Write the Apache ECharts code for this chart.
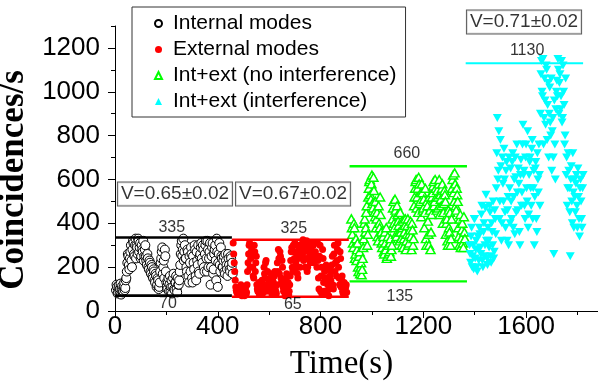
<!DOCTYPE html>
<html><head><meta charset="utf-8">
<script src="https://cdn.jsdelivr.net/npm/echarts@6/dist/echarts.min.js"></script>
<style>html,body{margin:0;padding:0;background:#fff}#c{width:598px;height:388px}</style>
</head><body><div id="c"></div>
<script>
// ---------------- data ----------------
const seriesNames = ['Internal modes', 'External modes', 'Int+ext (no interference)', 'Int+ext (interference)'];
const sampleStep = 4;   // s between samples of one array
const interleave = 2;   // second array sampled half a step later
const internalStart = 4;
const internalValues = [
  95, 110, 85, 120, 100, 75, 115, 90, 130, 105,
  150, 220, 250, 190, 270, 230,
  280, 310, 250, 330, 300, 260, 320, 290, 240, 300, 270, 230, 280,
  250, 210, 240, 190, 220, 170, 200, 150, 180, 130, 160, 120, 140, 110,
  180, 240, 290, 200, 150, 250, 130,
  100, 150, 120, 90, 140, 110, 170, 95, 130, 100, 150, 120, 180,
  260, 320, 280, 230, 300,
  240, 180, 270, 130, 220, 290, 150, 250, 190, 280, 140, 230, 300, 170,
  260, 310, 220, 280, 180, 300, 240, 320, 200, 270, 120, 250, 310, 190, 280, 230, 330, 110, 260, 210, 290, 240,
  200, 250, 170, 230, 190, 260, 210, 180, 240, 220
];
const internalValuesB = [
  120, 80, 105, 90, 125, 100, 85, 110, 95, 140,
  180, 260, 210, 240, 300, 200,
  320, 260, 300, 240, 290, 330, 270, 310, 250, 280, 320, 250, 300,
  230, 260, 200, 230, 180, 210, 160, 190, 140, 170, 110, 150, 100, 130,
  220, 270, 170, 230, 280, 180, 110,
  130, 90, 160, 110, 80, 150, 100, 130, 160, 85, 120, 140, 210,
  300, 250, 330, 270, 240,
  200, 280, 160, 250, 180, 260, 130, 220, 300, 160, 270, 210, 180, 250,
  290, 240, 300, 200, 260, 320, 180, 280, 240, 310, 200, 290, 170, 260, 300, 140, 270, 220, 310, 180, 250, 200,
  230, 180, 260, 210, 160, 240, 190, 250, 200, 170
];
const externalStart = 460;
const externalValues = [
  310, 220, 140, 95, 80,
  100, 75, 90, 110, 80, 95, 70, 105, 85,
  180, 260, 310, 240, 290, 200, 150, 270, 220, 120,
  90, 130, 80, 110, 140, 85,
  200, 150, 230, 120, 100,
  140, 100, 170, 90, 130, 160, 110, 80,
  220, 280, 170, 250, 130, 200,
  90, 140, 80, 170, 110, 75, 120,
  230, 290, 180, 270, 310, 220, 260, 150, 280, 200,
  300, 250, 325, 270, 200, 290, 180, 240, 310,
  220, 280, 260, 300, 230, 270, 250,
  310, 150, 250, 90, 200, 280,
  130, 180, 90, 200, 120, 70, 160,
  140, 210, 120, 260, 180, 300, 230, 310, 150, 270,
  110, 160, 80, 130, 90, 120
];
const externalValuesB = [
  260, 180, 110, 85, 100,
  80, 95, 120, 70, 100, 85, 90, 75, 120,
  220, 300, 200, 270, 250, 160, 300, 180, 250, 100,
  120, 75, 100, 130, 80, 110,
  170, 220, 90, 180, 130,
  110, 150, 80, 140, 100, 180, 90, 120,
  180, 240, 270, 150, 230, 110,
  120, 70, 150, 95, 130, 90, 160,
  270, 200, 300, 240, 190, 300, 170, 240, 300, 250,
  260, 310, 230, 290, 240, 320, 200, 280, 260,
  300, 240, 270, 220, 310, 250, 200,
  230, 100, 300, 160, 75, 240,
  90, 150, 210, 80, 140, 100, 200,
  180, 250, 100, 300, 220, 160, 280, 200, 120, 240,
  140, 90, 120, 75, 110, 85
];
const noInterfStart = 920;
const noInterfValues = [
  420, 350, 290, 380, 260,
  230, 310, 180, 270, 200, 165, 240,
  330, 420, 380, 480, 350,
  560, 600, 510, 620, 470, 550, 430,
  380, 450, 320, 400, 520, 360,
  290, 340, 260, 310, 380, 250, 300, 270, 330, 280,
  420, 500, 380, 460, 340, 440, 390, 320,
  360, 300, 410, 330, 390, 280, 350, 420, 310, 370, 340, 400, 300,
  480, 560, 600, 520, 450, 580, 500, 430, 540, 470,
  380, 560, 300, 480, 350, 520, 280, 440,
  540, 590, 500, 560, 460, 520, 580, 440, 510, 560, 400, 490, 530,
  350, 420, 300, 380, 450, 330,
  560, 620, 500, 580, 460, 530,
  380, 300, 440, 330, 400, 290, 360
];
const noInterfValuesB = [
  380, 310, 400, 240, 330,
  280, 200, 250, 170, 220, 190, 290,
  400, 360, 450, 300, 520,
  590, 530, 580, 490, 610, 450, 500,
  420, 340, 480, 380, 440, 310,
  320, 270, 360, 280, 240, 340, 260, 310, 250, 300,
  470, 400, 510, 350, 480, 410, 360, 450,
  330, 380, 290, 360, 420, 320, 390, 300, 350, 410, 280, 370, 330,
  520, 590, 470, 560, 610, 490, 540, 580, 460, 510,
  450, 330, 500, 410, 300, 460, 360, 520,
  570, 480, 600, 520, 550, 470, 600, 530, 480, 580, 450, 550, 500,
  400, 320, 460, 360, 300, 420,
  600, 540, 630, 480, 560, 500,
  340, 420, 290, 370, 310, 430, 330
];
const interfStart = 1380;
const interfValues = [
  300, 220, 380, 250, 190, 420, 280, 200, 340, 230,
  350, 260, 480, 200, 400, 300, 530, 240,
  380, 290, 450, 220, 360, 500, 270, 420,
  560, 880, 640, 420, 780, 320, 700, 500,
  600, 380, 680, 460, 300, 560,
  650, 420, 720, 520, 350, 610, 760, 460, 580, 300, 690,
  540, 850, 640, 420, 760, 500, 380, 620,
  700, 480, 780, 560, 300, 650, 420, 720, 540, 620,
  900, 1140, 980, 760, 1060, 850, 1100, 940, 700, 1020, 800,
  640, 880, 260, 760, 920,
  1050, 1150, 900, 1080, 980, 860, 1120, 940, 800,
  620, 480, 720, 560, 250, 660, 400, 540, 600,
  450, 620, 380, 520, 340, 600, 420, 560
];
const interfValuesB = [
  260, 340, 200, 300, 420, 240, 320, 180, 280, 380,
  290, 440, 230, 360, 250, 470, 320, 210,
  320, 480, 250, 400, 300, 240, 460, 350,
  720, 600, 820, 500, 660, 400, 580, 740,
  450, 640, 320, 520, 700, 400,
  500, 680, 380, 600, 700, 450, 540, 650, 360, 620, 480,
  760, 620, 480, 700, 560, 820, 440, 680,
  560, 740, 420, 640, 520, 680, 360, 600, 760, 480,
  1080, 1000, 1150, 880, 960, 1120, 780, 1040, 900, 860, 1060,
  820, 700, 960, 600, 1000,
  980, 1100, 1040, 920, 1140, 880, 1000, 760, 1060,
  700, 560, 640, 450, 600, 500, 720, 380, 520,
  580, 480, 650, 420, 560, 500, 380, 620
];
// bound lines (time ranges and levels)
const boundStarts = [0, 455, 913, 1365];
const boundEnds = [455, 910, 1370, 1822];
const upperBounds = [335, 325, 660, 1130];
const lowerBounds = [70, 65, 135, null];
const visibilityTexts = ['V=0.65\u00B10.02', 'V=0.67\u00B10.02', 'V=0.71\u00B10.02'];
const xTickLabels = [0, 400, 800, 1200, 1600];
const xMinorTicks = [200, 600, 1000, 1400, 1800];
const yTickLabels = [0, 200, 400, 600, 800, 1000, 1200];
const yMinorTicks = [100, 300, 500, 700, 900, 1100, 1300];

// ---------------- chart ----------------
const SANS = 'Liberation Sans, Arial, sans-serif';
const SERIF = 'Liberation Serif, Times New Roman, serif';
const colors = ['#000000', '#ff0000', '#00ff00', '#00ffff'];
const toPts = (start, a, b) => {
  const out = [];
  a.forEach((v, i) => {
    out.push([start + i * sampleStep, v]);
    if (b[i] != null) out.push([start + i * sampleStep + interleave, b[i]]);
  });
  return out;
};

const scatterSeries = [
  { name: seriesNames[0], type: 'scatter', data: toPts(internalStart, internalValues, internalValuesB), symbol: 'circle', symbolSize: 9,
    itemStyle: { color: '#ffffff', borderColor: '#000000', borderWidth: 1, opacity: 1 } },
  { name: seriesNames[1], type: 'scatter', data: toPts(externalStart, externalValues, externalValuesB), symbol: 'circle', symbolSize: 7,
    itemStyle: { color: '#ff0000', opacity: 1 } },
  { name: seriesNames[2], type: 'scatter', data: toPts(noInterfStart, noInterfValues, noInterfValuesB), symbol: 'triangle', symbolSize: [9, 8],
    itemStyle: { color: '#ffffff', borderColor: '#00ff00', borderWidth: 1.5, opacity: 1 } },
  { name: seriesNames[3], type: 'scatter', data: toPts(interfStart, interfValues, interfValuesB), symbol: 'triangle', symbolRotate: 180, symbolSize: [9, 8],
    itemStyle: { color: '#00ffff', opacity: 1 } }
];
scatterSeries.forEach(s => { s.xAxisIndex = 0; s.yAxisIndex = 0; s.z = 2; s.large = false; });

const lineWidths = [2.6, 2.4, 2.4, 2];
const boundSeries = [];
boundStarts.forEach((st, i) => {
  [upperBounds[i], lowerBounds[i]].forEach(v => {
    if (v == null) return;
    boundSeries.push({ type: 'line', name: 'bound', data: [[st, v], [boundEnds[i], v]], symbol: 'none',
      lineStyle: { color: colors[i], width: lineWidths[i] }, silent: true, z: 3, animation: false });
  });
});

// text annotations anchored to the bound levels
const upperLabelT = [221, 696, 1136, 1604];
const upperLabelDist = [2, 3, 5, 5];
const lowerLabelT = [206, 692, 1109];
const lowerLabelDist = [0, 0, 7];
const annData = [];
upperBounds.forEach((v, i) => annData.push({ value: [upperLabelT[i], v],
  label: { show: true, position: 'top', distance: upperLabelDist[i], formatter: String(v) } }));
lowerBounds.forEach((v, i) => { if (v == null) return; annData.push({ value: [lowerLabelT[i], v],
  label: { show: true, position: 'bottom', distance: lowerLabelDist[i], formatter: String(v) } }); });
const boxAnchors = [[233.5, 534], [693, 534], [1592, 1318]];
const boxData = visibilityTexts.map((t, i) => ({ value: boxAnchors[i], label: { show: true, position: 'inside', formatter: t } }));

const plain = v => String(v);
const option = {
  animation: false,
  backgroundColor: '#ffffff',
  grid: { left: 115, right: 0, top: 26, bottom: 77, containLabel: false, outerBoundsMode: 'none' },
  legend: {
    data: seriesNames, orient: 'vertical', left: 132, top: 7,
    padding: [6, 9, 5, 22], itemGap: 5, itemWidth: 7, itemHeight: 7,
    borderColor: '#333', borderWidth: 1, backgroundColor: '#ffffff',
    textStyle: { fontFamily: SANS, fontSize: 21, color: '#000', padding: [0, 0, 0, 6] }
  },
  xAxis: [
    { type: 'value', min: 0, max: 1880, interval: 400,
      name: 'Time(s)', nameLocation: 'middle', nameGap: 37,
      nameTextStyle: { fontFamily: SERIF, fontSize: 33, color: '#000', padding: [0, 30, 0, 0] },
      axisLine: { show: true, onZero: false, lineStyle: { color: '#000', width: 1 } },
      axisTick: { show: true, length: 7, customValues: xTickLabels, lineStyle: { color: '#000', width: 1 } },
      axisLabel: { customValues: xTickLabels, formatter: plain, fontFamily: SANS, fontSize: 26, color: '#000', margin: 3 },
      splitLine: { show: false } },
    { type: 'value', min: 0, max: 1880, position: 'bottom', show: true,
      axisLine: { show: false }, axisLabel: { show: false }, splitLine: { show: false },
      axisTick: { show: true, length: 4, customValues: xMinorTicks, lineStyle: { color: '#000', width: 1 } } }
  ],
  yAxis: [
    { type: 'value', min: 0, max: 1300, interval: 100,
      name: 'Coincidences/s', nameLocation: 'middle', nameGap: 73,
      nameTextStyle: { fontFamily: SERIF, fontSize: 35, fontWeight: 'bold', color: '#000', padding: [0, 23, 0, 0] },
      axisLine: { show: true, onZero: false, lineStyle: { color: '#000', width: 1 } },
      axisTick: { show: true, length: 7, customValues: yTickLabels, lineStyle: { color: '#000', width: 1 } },
      axisLabel: { customValues: yTickLabels, formatter: plain, fontFamily: SANS, fontSize: 26, color: '#000', margin: 15 },
      splitLine: { show: false } },
    { type: 'value', min: 0, max: 1300, position: 'left', show: true,
      axisLine: { show: false }, axisLabel: { show: false }, splitLine: { show: false },
      axisTick: { show: true, length: 4, customValues: yMinorTicks, lineStyle: { color: '#000', width: 1 } } }
  ],
  series: [
    ...scatterSeries,
    ...boundSeries,
    { type: 'scatter', name: 'levels', data: annData, symbolSize: 0, silent: true, clip: false, z: 5,
      label: { fontFamily: SANS, fontSize: 16, color: '#000' } },
    { type: 'scatter', name: 'visibility', data: boxData, symbolSize: 0, silent: true, clip: false, z: 6,
      label: { fontFamily: SANS, fontSize: 19, color: '#000', lineHeight: 20, padding: [2, 3, 1, 3],
        backgroundColor: '#ffffff', borderColor: '#333', borderWidth: 1 } }
  ]
};
const chart = echarts.init(document.getElementById('c'), null, { renderer: 'canvas' });
chart.setOption(option);
</script></body></html>
